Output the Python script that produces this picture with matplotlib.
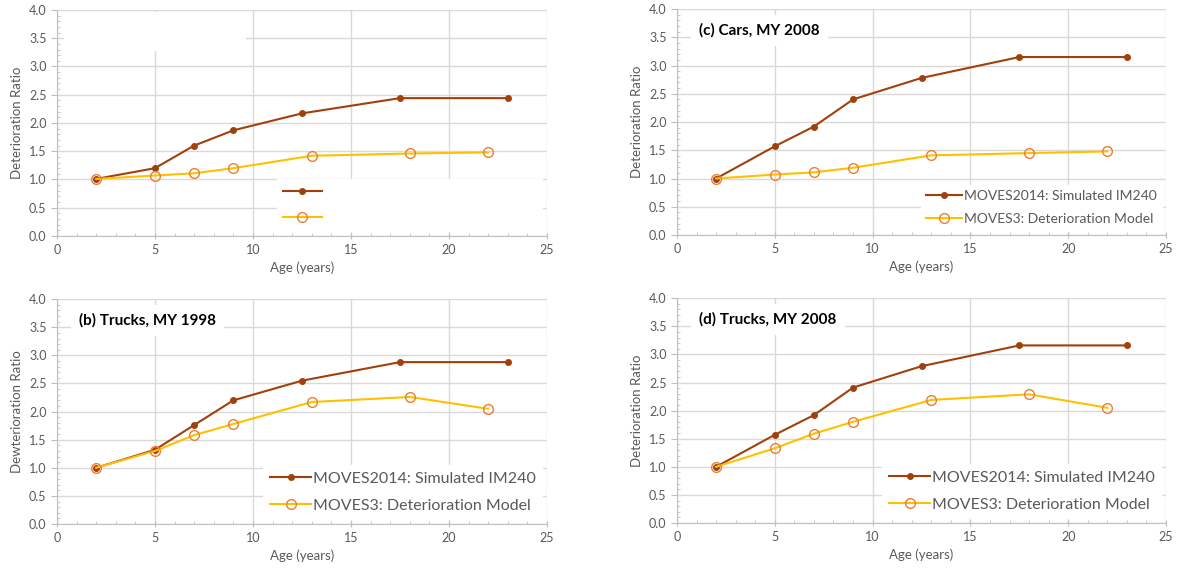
import matplotlib
matplotlib.use("Agg")
import matplotlib.pyplot as plt
from matplotlib.patches import Rectangle
from matplotlib.ticker import MultipleLocator

plt.rcParams['font.family'] = ['Lato', 'DejaVu Sans']

# ages for the two model series
age_2014 = [2, 5, 7, 9, 12.5, 17.5, 23]
age_moves3 = [2, 5, 7, 9, 13, 18, 22]

# deterioration ratios
cars98_2014 = [1.01, 1.20, 1.60, 1.87, 2.17, 2.44, 2.44]
cars98_m3 = [1.01, 1.07, 1.11, 1.20, 1.42, 1.46, 1.48]
cars08_2014 = [1.00, 1.57, 1.92, 2.40, 2.78, 3.15, 3.15]
cars08_m3 = [1.00, 1.07, 1.11, 1.19, 1.41, 1.45, 1.48]
trucks98_2014 = [1.00, 1.32, 1.76, 2.20, 2.55, 2.88, 2.88]
trucks98_m3 = [1.00, 1.30, 1.58, 1.78, 2.17, 2.26, 2.05]
trucks08_2014 = [1.00, 1.57, 1.92, 2.41, 2.79, 3.16, 3.16]
trucks08_m3 = [1.00, 1.33, 1.59, 1.80, 2.19, 2.29, 2.05]

label_2014 = "MOVES2014: Simulated IM240"
label_m3 = "MOVES3: Deterioration Model"

RED = "#A0410D"
GOLD = "#FFC000"
ORANGE = "#ED7D31"
GRAY = "#595959"
GRID = "#D9D9D9"
AXIS = "#BFBFBF"

fig = plt.figure(figsize=(11.79, 5.75), dpi=100)

panels = [
    # rect, ylabel, title, series 2014, series m3, legend font, legend text colour
    ([0.0483, 0.5896, 0.4156, 0.393], "Deterioration Ratio", None, cars98_2014, cars98_m3, 11, "white"),
    ([0.5742, 0.5913, 0.4148, 0.393], "Deterioration Ratio", "(c) Cars, MY 2008", cars08_2014, cars08_m3, 10, GRAY),
    ([0.0483, 0.0887, 0.4156, 0.391], "Dewterioration Ratio", "(b) Trucks, MY 1998", trucks98_2014, trucks98_m3, 11.5, GRAY),
    ([0.5742, 0.0904, 0.4148, 0.391], "Deterioration Ratio", "(d) Trucks, MY 2008", trucks08_2014, trucks08_m3, 11.5, GRAY),
]

for rect, ylab, title, s2014, sm3, lfs, lcol in panels:
    ax = fig.add_axes(rect)
    ax.plot(age_2014, s2014, color=RED, lw=1.5, marker='o', ms=4,
            mfc=RED, mec=RED, label=label_2014, zorder=3)
    ax.plot(age_moves3, sm3, color=GOLD, lw=1.5, marker='o', ms=7,
            mfc='none', mec=ORANGE, mew=1, label=label_m3, zorder=3)

    ax.set_xlim(0, 25)
    ax.set_ylim(0, 4)
    ax.xaxis.set_major_locator(MultipleLocator(5))
    ax.xaxis.set_minor_locator(MultipleLocator(1))
    ax.yaxis.set_major_locator(MultipleLocator(0.5))
    ax.yaxis.set_minor_locator(MultipleLocator(0.1))
    ax.yaxis.set_major_formatter(lambda v, p: f"{v:.1f}")
    ax.grid(True, which='major', color=GRID, lw=1)
    ax.set_axisbelow(True)
    for side in ('top', 'right'):
        ax.spines[side].set_visible(False)
    for side in ('left', 'bottom'):
        ax.spines[side].set_color(AXIS)
    ax.tick_params(axis='x', which='major', direction='inout', length=5,
                   color=AXIS, labelcolor=GRAY, labelsize=9)
    ax.tick_params(axis='y', which='major', direction='out', length=4,
                   color=AXIS, labelcolor=GRAY, labelsize=9)
    ax.tick_params(which='minor', direction='in', length=2.5, color=AXIS)
    ax.set_xlabel("Age (years)", color=GRAY, fontsize=9.5)
    ax.set_ylabel(ylab, color=GRAY, fontsize=9.5)

    leg = ax.legend(loc='lower right', frameon=True, fontsize=lfs, handlelength=2.6,
                    handletextpad=0.1, borderaxespad=0.3, labelspacing=0.8,
                    fancybox=False)
    leg.get_frame().set_edgecolor('white')
    leg.get_frame().set_alpha(1)
    for t in leg.get_texts():
        t.set_color(lcol)

    if title is None:
        ax.add_patch(Rectangle((0.015, 0.82), 0.37, 0.17, transform=ax.transAxes,
                               facecolor='white', edgecolor='none', zorder=2))
    else:
        ax.text(0.045, 0.905, title, transform=ax.transAxes, fontsize=11,
                fontweight='bold', color='black', va='center', ha='left',
                bbox=dict(facecolor='white', edgecolor='none', pad=6), zorder=4)

fig.savefig("out.png", dpi=100)
